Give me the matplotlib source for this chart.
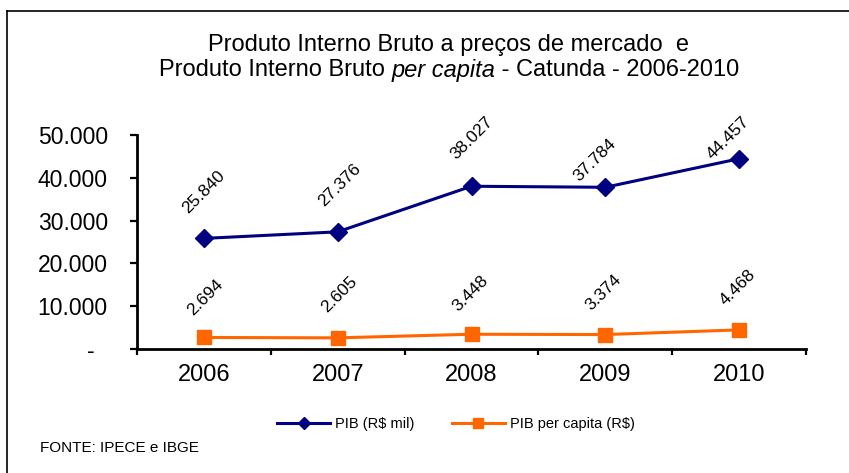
import matplotlib
matplotlib.use("Agg")
import matplotlib.pyplot as plt
from matplotlib.ticker import FuncFormatter, FixedLocator
from matplotlib.lines import Line2D

plt.rcParams['font.family'] = ['Liberation Sans', 'DejaVu Sans']

years = ["2006", "2007", "2008", "2009", "2010"]
pib_mil = [25840, 27376, 38027, 37784, 44457]
pib_per_capita = [2694, 2605, 3448, 3374, 4468]
pib_labels = ["25.840", "27.376", "38.027", "37.784", "44.457"]
pc_labels = ["2.694", "2.605", "3.448", "3.374", "4.468"]
y_ticks = [0, 10000, 20000, 30000, 40000, 50000]

NAVY = "#000080"
ORANGE = "#FF6600"

fig = plt.figure(figsize=(8.49, 4.73), dpi=100)
W, H = 849, 473

ax = fig.add_axes([137 / W, 1 - 349 / H, (806 - 137) / W, (349 - 135) / H])
x = list(range(len(years)))

ax.plot(x, pib_mil, color=NAVY, lw=2.2, marker="D", ms=9.5, mfc=NAVY, mec=NAVY,
        label="PIB (R$ mil)", zorder=3)
ax.plot(x, pib_per_capita, color=ORANGE, lw=2.2, marker="s", ms=10.5, mfc=ORANGE,
        mec=ORANGE, label="PIB per capita (R$)", zorder=3)

# label offsets (pixels -> points)
px = 72 / 100
pib_off = [(0, 46), (2, 47), (0, 48), (-10, 27), (-11, 21)]
pc_off = [(1, 40), (2, 43), (-1, 41), (-2, 42), (-1, 42)]
for i in x:
    ax.annotate(pib_labels[i], (x[i], pib_mil[i]),
                xytext=(pib_off[i][0] * px, pib_off[i][1] * px), textcoords="offset points",
                ha="center", va="center", rotation=45, fontsize=12.5, rotation_mode="anchor")
    ax.annotate(pc_labels[i], (x[i], pib_per_capita[i]),
                xytext=(pc_off[i][0] * px, pc_off[i][1] * px), textcoords="offset points",
                ha="center", va="center", rotation=45, fontsize=12.5, rotation_mode="anchor")

ax.set_xlim(-0.5, len(years) - 0.5)
ax.set_ylim(0, 50000)
ax.set_yticks(y_ticks)
ax.yaxis.set_major_formatter(FuncFormatter(
    lambda v, p: "-  " if v == 0 else f"{int(v):,}".replace(",", ".")))
ax.set_xticks(x)
ax.set_xticklabels(years)
ax.xaxis.set_minor_locator(FixedLocator([i - 0.5 for i in range(len(years) + 1)]))

for s in ["top", "right"]:
    ax.spines[s].set_visible(False)
for s in ["left", "bottom"]:
    ax.spines[s].set_linewidth(2.0)
    ax.spines[s].set_color("black")

ax.tick_params(axis="y", which="major", direction="out", length=5, width=1.6,
               labelsize=16.5, pad=16)
ax.tick_params(axis="x", which="major", length=0, labelsize=17, pad=11)
ax.tick_params(axis="x", which="minor", direction="out", length=4.5, width=1.6)

# Title (two centered lines, second with italic part)
cx = 449 / W
TFS = 17
fig.text(cx, 1 - 45 / H, "Produto Interno Bruto a preços de mercado  e",
         ha="center", va="center", fontsize=TFS)

parts = [("Produto Interno Bruto ", "normal"), ("per capita", "italic"),
         (" - Catunda - 2006-2010", "normal")]
fig.canvas.draw()
renderer = fig.canvas.get_renderer()
texts = []
widths = []
for s, st in parts:
    t = fig.text(0, 1 - 70 / H, s, ha="left", va="center", fontsize=TFS, style=st)
    bb = t.get_window_extent(renderer)
    texts.append(t)
    widths.append(bb.width)
total = sum(widths)
start = cx * W - total / 2
for t, w in zip(texts, widths):
    t.set_x(start / W)
    start += w

# Legend
handles = [Line2D([], [], color=NAVY, lw=2.2, marker="D", ms=6.5),
           Line2D([], [], color=ORANGE, lw=2.2, marker="s", ms=7.5)]
fig.legend(handles, ["PIB (R$ mil)", "PIB per capita (R$)"], loc="center",
           bbox_to_anchor=(456 / W, 1 - 424 / H), ncol=2, frameon=False,
           fontsize=10.5, handlelength=3.6, handletextpad=0.35, columnspacing=2.6)

fig.text(40 / W, 1 - 448 / H, "FONTE: IPECE e IBGE", ha="left", va="center",
         fontsize=11)

# Outer frame: top and left edges visible
fig.add_artist(Line2D([7 / W, 1], [1 - 11 / H, 1 - 11 / H], color="black", lw=1.2,
                      transform=fig.transFigure))
fig.add_artist(Line2D([7 / W, 7 / W], [0, 1 - 11 / H], color="black", lw=1.2,
                      transform=fig.transFigure))

fig.savefig("out.png", dpi=100)
